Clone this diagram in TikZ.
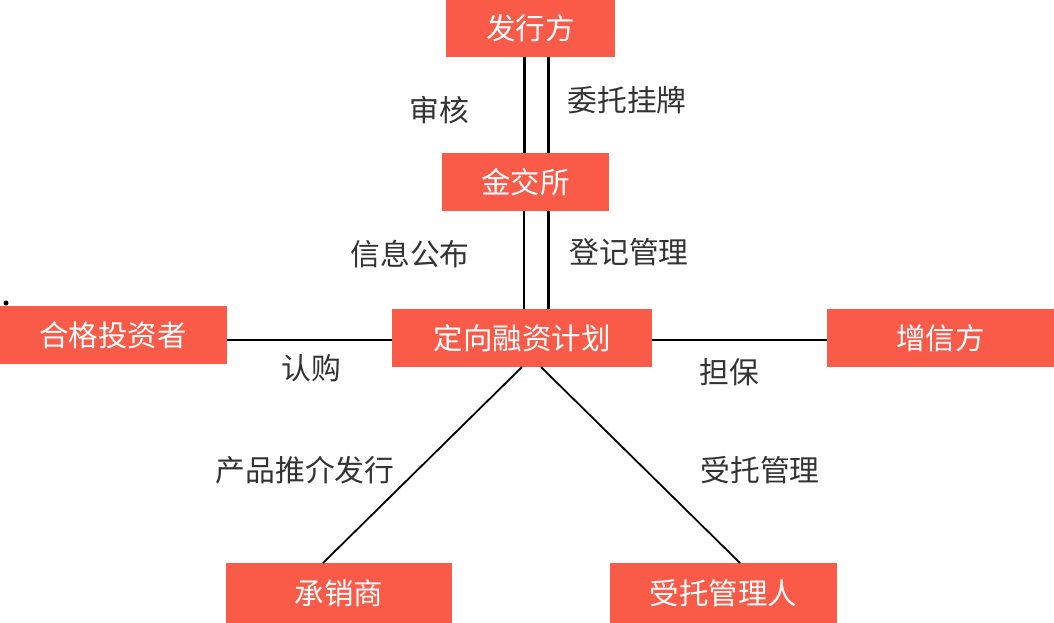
\documentclass[tikz,border=0pt]{standalone}
\usepackage{fontspec}
\setmainfont{Noto Sans CJK SC}
\definecolor{boxred}{RGB}{250,90,72}
\definecolor{labelgray}{RGB}{51,51,51}
\begin{document}
\begin{tikzpicture}[x=1pt,y=-1pt,
  box/.style={rectangle,fill=boxred,text=white,inner sep=0pt,font=\fontsize{29.5}{32}\selectfont},
  lbl/.style={text=labelgray,inner sep=0pt,font=\fontsize{29.8}{32}\selectfont},
  thickline/.style={line width=3pt},
  midline/.style={line width=2pt},
  thinline/.style={line width=1.2pt}]
\useasboundingbox (0,0) rectangle (1054,622);
\node[box,minimum width=169pt,minimum height=57pt] (fxf) at (530.5,28.5) {发行方};
\node[box,minimum width=167pt,minimum height=58pt] (jjs) at (525.5,182) {金交所};
\node[box,minimum width=260pt,minimum height=58pt] (dx) at (522,338) {定向融资计划};
\node[box,minimum width=227pt,minimum height=58pt] (hg) at (113,335) {合格投资者};
\node[box,minimum width=227pt,minimum height=58pt] (zx) at (940.5,338) {增信方};
\node[box,minimum width=226pt,minimum height=60pt] (cx) at (339,593) {承销商};
\node[box,minimum width=227pt,minimum height=60pt] (st) at (723.5,593) {受托管理人};
\coordinate (a) at (524,0);
\coordinate (b) at (548,0);
\coordinate (dl) at (522,367);
\coordinate (dr) at (541,367);
\coordinate (cl) at (323,563);
\coordinate (sr) at (740,563);
\draw[thickline] (fxf.south -| a) -- (jjs.north -| a);
\draw[thickline] (fxf.south -| b) -- (jjs.north -| b);
\draw[thinline] (jjs.south -| a) -- (dx.north -| a);
\draw[thickline] (jjs.south -| b) -- (dx.north -| b);
\draw[midline] (hg.east |- 0,340) -- (dx.west |- 0,340);
\draw[midline] (dx.east |- 0,340) -- (zx.west |- 0,340);
\draw[line width=1.8pt] (dl) -- (cl);
\draw[line width=1.8pt] (dr) -- (sr);
\fill (6,303) circle (2.5pt);
\node[lbl] (l1) at (439,110) {审核};
\node[lbl] (l2) at (627,100) {委托挂牌};
\node[lbl] (l3) at (410,254) {信息公布};
\node[lbl] (l4) at (629,252) {登记管理};
\node[lbl] (l5) at (311,368) {认购};
\node[lbl] (l6) at (729,372) {担保};
\node[lbl] (l7) at (305,470) {产品推介发行};
\node[lbl] (l8) at (760,470) {受托管理};
\end{tikzpicture}
\end{document}
